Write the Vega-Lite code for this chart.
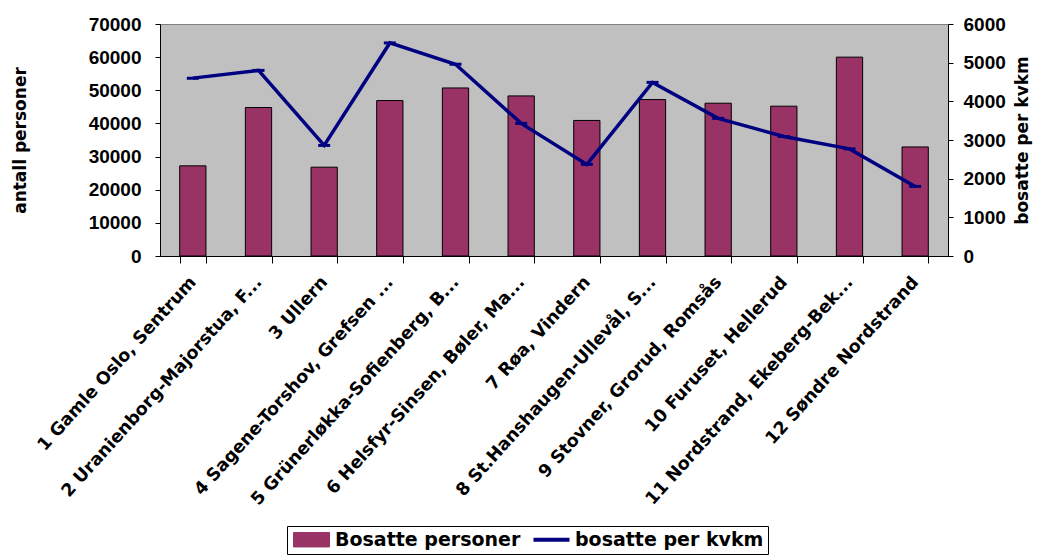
{
  "$schema": "https://vega.github.io/schema/vega-lite/v6.json",
  "width": 788,
  "height": 232,
  "autosize": {"type": "none"},
  "padding": {"left": 160, "top": 24, "right": 89, "bottom": 302},
  "background": "white",
  "config": {
    "view": {"fill": "#c0c0c0", "stroke": "#808080", "strokeWidth": 1},
    "axis": {"grid": false, "domainColor": "#000000", "tickColor": "#000000", "labelColor": "#000000", "titleColor": "#000000"}
  },
  "data": {
    "values": [
      {"bydel": "1 Gamle Oslo, Sentrum", "bosatte": 27200, "kvkm": 4600},
      {"bydel": "2 Uranienborg-Majorstua, F...", "bosatte": 44800, "kvkm": 4800},
      {"bydel": "3 Ullern", "bosatte": 26800, "kvkm": 2860},
      {"bydel": "4 Sagene-Torshov, Grefsen ...", "bosatte": 46900, "kvkm": 5510},
      {"bydel": "5 Grünerløkka-Sofienberg, B...", "bosatte": 50700, "kvkm": 4960},
      {"bydel": "6 Helsfyr-Sinsen, Bøler, Ma...", "bosatte": 48300, "kvkm": 3430},
      {"bydel": "7 Røa, Vindern", "bosatte": 40900, "kvkm": 2370},
      {"bydel": "8 St.Hanshaugen-Ullevål, S...", "bosatte": 47200, "kvkm": 4490},
      {"bydel": "9 Stovner, Grorud, Romsås", "bosatte": 46100, "kvkm": 3560},
      {"bydel": "10 Furuset, Hellerud", "bosatte": 45200, "kvkm": 3090},
      {"bydel": "11 Nordstrand, Ekeberg-Bek...", "bosatte": 60000, "kvkm": 2770},
      {"bydel": "12 Søndre Nordstrand", "bosatte": 32900, "kvkm": 1800}
    ]
  },
  "encoding": {
    "x": {
      "field": "bydel", "type": "nominal", "sort": null,
      "scale": {"paddingInner": 0.6, "paddingOuter": 0.3},
      "axis": {
        "title": null, "labelAngle": -48, "labelAlign": "right", "labelBaseline": "middle",
        "labelFont": "DejaVu Sans", "labelFontSize": 17.5, "labelFontWeight": "bold",
        "tickBand": "extent", "tickSize": 7, "labelPadding": 16, "labelLimit": 400
      }
    }
  },
  "layer": [
    {
      "mark": {"type": "bar", "stroke": "#000000", "strokeWidth": 1},
      "encoding": {
        "y": {
          "field": "bosatte", "type": "quantitative",
          "scale": {"domain": [0, 70000], "nice": false},
          "axis": {
            "title": "antall personer", "orient": "left", "values": [0, 10000, 20000, 30000, 40000, 50000, 60000, 70000],
            "format": "d", "labelFont": "Liberation Sans", "labelFontSize": 19, "labelFontWeight": "bold",
            "tickSize": 5, "labelPadding": 14,
            "titleFont": "DejaVu Sans", "titleFontSize": 17, "titleFontWeight": "bold",
            "titleX": -140, "titleY": 116, "titleAngle": 270, "titleAlign": "center", "titleBaseline": "middle"
          }
        },
        "color": {
          "datum": "Bosatte personer",
          "scale": {"domain": ["Bosatte personer", "bosatte per kvkm"], "range": ["#993366", "#000080"]},
          "legend": {
            "orient": "none", "legendX": 127, "legendY": 502, "direction": "horizontal",
            "title": null, "strokeColor": "#000000", "fillColor": "#ffffff", "padding": 4,
            "labelFont": "DejaVu Sans", "labelFontSize": 19, "labelFontWeight": "bold", "labelColor": "#000000",
            "labelLimit": 0,
            "symbolSize": 1296, "symbolOffset": 11, "columnPadding": 4, "labelOffset": 14,
            "encoding": {
              "symbols": {
                "shape": {"value": {"expr": "datum.value === 'Bosatte personer' ? 'M-1,-0.4H1V0.4H-1Z' : 'M-1,0H1'"}},
                "fill": {"value": {"expr": "datum.value === 'Bosatte personer' ? '#993366' : 'transparent'"}},
                "stroke": {"value": {"expr": "datum.value === 'Bosatte personer' ? '#000000' : '#000080'"}},
                "strokeWidth": {"value": {"expr": "datum.value === 'Bosatte personer' ? 1 : 4"}},
                "opacity": {"value": 1}
              }
            }
          }
        }
      }
    },
    {
      "encoding": {
        "y": {
          "field": "kvkm", "type": "quantitative",
          "scale": {"domain": [0, 6000], "nice": false},
          "axis": {
            "title": "bosatte per kvkm", "orient": "right", "values": [0, 1000, 2000, 3000, 4000, 5000, 6000],
            "format": "d", "labelFont": "Liberation Sans", "labelFontSize": 19, "labelFontWeight": "bold",
            "tickSize": 5, "labelPadding": 10,
            "titleFont": "DejaVu Sans", "titleFontSize": 17, "titleFontWeight": "bold",
            "titleX": 74, "titleY": 116, "titleAngle": 270, "titleAlign": "center", "titleBaseline": "middle"
          }
        }
      },
      "layer": [
        {
          "mark": {"type": "line", "strokeWidth": 3.5},
          "encoding": {
            "color": {"datum": "bosatte per kvkm"}
          }
        },
        {
          "mark": {"type": "tick", "color": "#000080", "size": 12, "thickness": 3, "opacity": 1},
          "encoding": {}
        }
      ]
    }
  ],
  "resolve": {"scale": {"y": "independent"}}
}
